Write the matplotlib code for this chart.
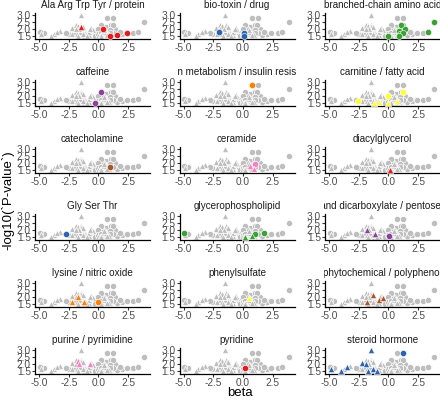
import matplotlib.pyplot as plt
from matplotlib.transforms import Bbox, TransformedBbox

plt.rcParams['font.family'] = ['Liberation Sans', 'DejaVu Sans']

# facet names (pathway), in panel order
pathways = [
    'Ala Arg Trp Tyr / protein', 'bio-toxin / drug', 'branched-chain amino acid',
    'caffeine', 'carbon metabolism / insulin resistance', 'carnitine / fatty acid',
    'catecholamine', 'ceramide', 'diacylglycerol',
    'Gly Ser Thr', 'glycerophospholipid', 'glycolysis and dicarboxylate / pentose phosphate',
    'lysine / nitric oxide', 'phenylsulfate', 'phytochemical / polyphenol',
    'purine / pyrimidine', 'pyridine', 'steroid hormone',
]

# per pathway: beta, -log10(p), shape (o = circle, ^ = triangle)
beta = [
    [-1.5, 0.35, 0.95, 1.6, 2.4],
    [-2.0, 0.05, 0.08],
    [0.0, 0.85, 1.05, 0.95, 1.4, 1.25, 0.9, 3.3, 3.85],
    [0.2, -0.25],
    [0.73],
    [-2.6, -1.25, -0.83, 0.0, -0.05, 0.7, 1.2],
    [1.0],
    [0.6, 1.0, 0.9],
    [0.1],
    [-2.75],
    [-4.95, 0.2, 0.75, 1.0, 1.8],
    [-1.8, -1.1, 0.05],
    [-2.2, -1.7, -1.2, 0.0],
    [0.5],
    [-1.8, -1.3, -0.8, -0.5],
    [-1.76, -1.6, -0.7],
    [0.19],
    [-1.5, 1.25, -4.86, -3.96, -3.48, -2.27, -1.9, -1.7, -1.28, -1.0],
]
logp = [
    [2.12, 1.98, 1.50, 1.58, 1.70],
    [1.76, 1.70, 1.45],
    [1.45, 1.85, 2.25, 1.60, 1.98, 1.70, 1.45, 1.80, 2.45],
    [2.25, 1.50],
    [2.76],
    [1.60, 1.50, 1.55, 1.98, 1.50, 1.63, 2.25],
    [1.70],
    [1.75, 1.90, 1.55],
    [1.50],
    [1.68],
    [1.74, 1.50, 1.55, 1.70, 1.75],
    [1.95, 1.70, 1.55],
    [1.60, 1.95, 1.60, 1.60],
    [1.90],
    [1.60, 2.10, 1.75, 1.90],
    [2.19, 1.95, 1.95],
    [1.72],
    [3.00, 2.75, 1.60, 1.45, 1.75, 2.05, 2.00, 1.45, 1.65, 1.50],
]
shape = [
    '^oooo', 'ooo', 'ooooooooo', 'oo', 'o', 'o^^o^^o', 'o', '^o^', '^', 'o',
    'o^^oo', '^^o', '^^^o', '^', '^^^^', '^^^', 'o', '^o^^^^^^^^',
]

# metabolites not in any of the shown pathways (grey only)
other_beta = [-4.6, 2.95, -3.75, -3.2, -1.9, -1.45, -1.2, -1.55, -0.6,
              -0.3, 0.5, 0.6, 1.5, 0.3, 0.8, 2.0]
other_logp = [1.68, 1.68, 1.62, 1.82, 2.25, 2.30, 1.90, 1.75, 2.05,
              1.70, 1.80, 2.10, 1.80, 1.60, 1.75, 1.65]
other_shape = 'oo^^^^^^^ooooooo'

set1 = ['#E41A1C', '#2A64B0', '#38A332', '#8E3F9E', '#FF7F00', '#FFFF33', '#A65628', '#F781BF']

all_b, all_p, all_s = list(other_beta), list(other_logp), list(other_shape)
for b, p, s in zip(beta, logp, shape):
    all_b += b
    all_p += p
    all_s += list(s)

fig = plt.figure(figsize=(4.4, 4.03), dpi=100)
W, H = 440, 403
col_left = [35, 179.5, 325]
pw, ph = 115, 26.3

for i, name in enumerate(pathways):
    r, c = divmod(i, 3)
    bottom = 39 + 67 * r
    ax = fig.add_axes([col_left[c] / W, 1 - bottom / H, pw / W, ph / H])
    for m in 'o^':
        xs = [x for x, s in zip(all_b, all_s) if s == m]
        ys = [y for y, s in zip(all_p, all_s) if s == m]
        ax.scatter(xs, ys, s=20, marker=m, c='#BEBEBE', edgecolors='white', linewidths=0.5, zorder=2)
    for m in 'o^':
        xs = [x for x, s in zip(beta[i], shape[i]) if s == m]
        ys = [y for y, s in zip(logp[i], shape[i]) if s == m]
        ax.scatter(xs, ys, s=20, marker=m, c=set1[i % 8], edgecolors='white', linewidths=0.4, zorder=3)
    ax.set_xlim(-5.35, 4.35)
    ax.set_ylim(1.27, 3.15)
    ax.set_xticks([-5.0, -2.5, 0.0, 2.5])
    ax.set_yticks([1.5, 2.0, 2.5, 3.0])
    ax.set_xticklabels(['-5.0', '-2.5', '0.0', '2.5'])
    ax.set_yticklabels(['1.5', '2.0', '2.5', '3.0'])
    ax.tick_params(labelsize=7.3, colors='#333333', labelcolor='#4D4D4D', length=2, width=0.8, pad=1)
    for sp in ['top', 'right']:
        ax.spines[sp].set_visible(False)
    for sp in ['left', 'bottom']:
        ax.spines[sp].set_linewidth(0.9)
    ax.patch.set_alpha(0)
    t = ax.text(0.5, 1.0 + 5 / ph, name, transform=ax.transAxes, ha='center', va='baseline',
                fontsize=7.1, color='#1A1A1A', clip_on=True)
    t.set_clip_box(TransformedBbox(Bbox([[-0.01, 1.0], [1.01, 2.5]]), ax.transAxes))

fig.text(240 / W, 1 - 393 / H, 'beta', ha='center', va='center', fontsize=9.5)
fig.text(8 / W, 1 - 200 / H, '-log10(`P-value`)', ha='center', va='center', rotation=90, fontsize=9.5)

fig.savefig('out.png', dpi=100)
